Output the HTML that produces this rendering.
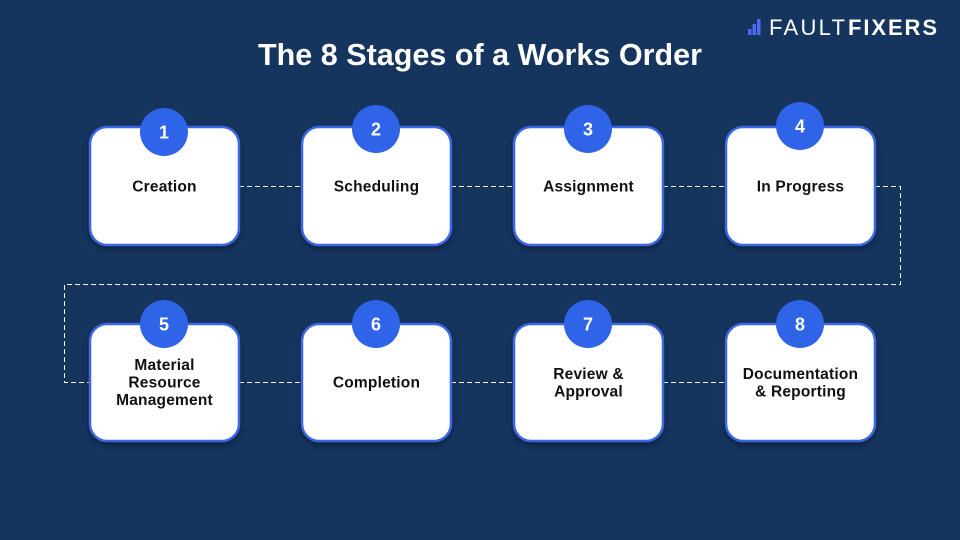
<!DOCTYPE html>
<html>
<head>
<meta charset="utf-8">
<style>
  html,body{margin:0;padding:0;}
  body{width:960px;height:540px;background:#15345e;overflow:hidden;}
  svg{display:block;}
  .lbl{font-family:"Liberation Sans",sans-serif;font-weight:bold;font-size:15.5px;fill:#111;text-anchor:middle;letter-spacing:0.2px;}
  .num{font-family:"Liberation Sans",sans-serif;font-weight:bold;font-size:18px;fill:#fff;text-anchor:middle;}
</style>
</head>
<body>
<svg width="960" height="540" viewBox="0 0 960 540" xmlns="http://www.w3.org/2000/svg">
  <defs>
    <filter id="sh" x="-10%" y="-10%" width="120%" height="130%">
      <feDropShadow dx="0" dy="3" stdDeviation="3" flood-color="#000" flood-opacity="0.35"/>
    </filter>
  </defs>
  <rect width="960" height="540" fill="#15345e"/>

  <!-- logo -->
  <rect x="748" y="29" width="3.5" height="6" fill="#4d6cf5"/>
  <rect x="752.5" y="24" width="3.5" height="11" fill="#4d6cf5"/>
  <rect x="757" y="19" width="3.5" height="16" fill="#4d6cf5"/>
  <text x="769" y="35" font-family="Liberation Sans, sans-serif" font-size="22" fill="#fff" textLength="76" lengthAdjust="spacing">FAULT</text>
  <text x="848" y="35" font-family="Liberation Sans, sans-serif" font-weight="bold" font-size="22" fill="#fff" textLength="89" lengthAdjust="spacing">FIXERS</text>

  <!-- title -->
  <text x="480" y="65" font-family="Liberation Sans, sans-serif" font-weight="bold" font-size="30.5" fill="#fff" text-anchor="middle" textLength="444" lengthAdjust="spacing">The 8 Stages of a Works Order</text>

  <!-- dashed connectors -->
  <g stroke="#ffffff" stroke-width="1" stroke-dasharray="5,3" fill="none">
    <line x1="239" y1="186.5" x2="301" y2="186.5"/>
    <line x1="451" y1="186.5" x2="513" y2="186.5"/>
    <line x1="663" y1="186.5" x2="725" y2="186.5"/>
    <polyline points="875,186.5 900.5,186.5 900.5,284.5 64.5,284.5 64.5,382.5 89,382.5"/>
    <line x1="239" y1="382.5" x2="301" y2="382.5"/>
    <line x1="451" y1="382.5" x2="513" y2="382.5"/>
    <line x1="663" y1="382.5" x2="725" y2="382.5"/>
  </g>

  <!-- boxes -->
  <g fill="#fff" stroke="#3a66e6" stroke-width="2.5" filter="url(#sh)">
    <rect x="90" y="127" width="149" height="118" rx="17"/>
    <rect x="302" y="127" width="149" height="118" rx="17"/>
    <rect x="514" y="127" width="149" height="118" rx="17"/>
    <rect x="726" y="127" width="149" height="118" rx="17"/>
    <rect x="90" y="324" width="149" height="117" rx="17"/>
    <rect x="302" y="324" width="149" height="117" rx="17"/>
    <rect x="514" y="324" width="149" height="117" rx="17"/>
    <rect x="726" y="324" width="149" height="117" rx="17"/>
  </g>

  <!-- circles -->
  <g fill="#2f63e8">
    <circle cx="164" cy="132" r="24"/>
    <circle cx="376" cy="129" r="24"/>
    <circle cx="588" cy="129" r="24"/>
    <circle cx="800" cy="126" r="24"/>
    <circle cx="164" cy="324" r="24"/>
    <circle cx="376" cy="324" r="24"/>
    <circle cx="588" cy="324" r="24"/>
    <circle cx="800" cy="324" r="24"/>
  </g>
  <text class="num" x="164" y="138.5">1</text>
  <text class="num" x="376" y="135.5">2</text>
  <text class="num" x="588" y="135.5">3</text>
  <text class="num" x="800" y="132.5">4</text>
  <text class="num" x="164" y="330.5">5</text>
  <text class="num" x="376" y="330.5">6</text>
  <text class="num" x="588" y="330.5">7</text>
  <text class="num" x="800" y="330.5">8</text>

  <!-- labels -->
  <text class="lbl" x="164.5" y="191.5">Creation</text>
  <text class="lbl" x="376.5" y="191.5">Scheduling</text>
  <text class="lbl" x="588.5" y="191.5">Assignment</text>
  <text class="lbl" x="800.5" y="191.5">In Progress</text>

  <text class="lbl" x="164.5" y="370">Material</text>
  <text class="lbl" x="164.5" y="387.5">Resource</text>
  <text class="lbl" x="164.5" y="405">Management</text>

  <text class="lbl" x="376.5" y="387.5">Completion</text>

  <text class="lbl" x="588.5" y="379">Review &amp;</text>
  <text class="lbl" x="588.5" y="396.5">Approval</text>

  <text class="lbl" x="800.5" y="379">Documentation</text>
  <text class="lbl" x="800.5" y="396.5">&amp; Reporting</text>
</svg>
</body>
</html>
